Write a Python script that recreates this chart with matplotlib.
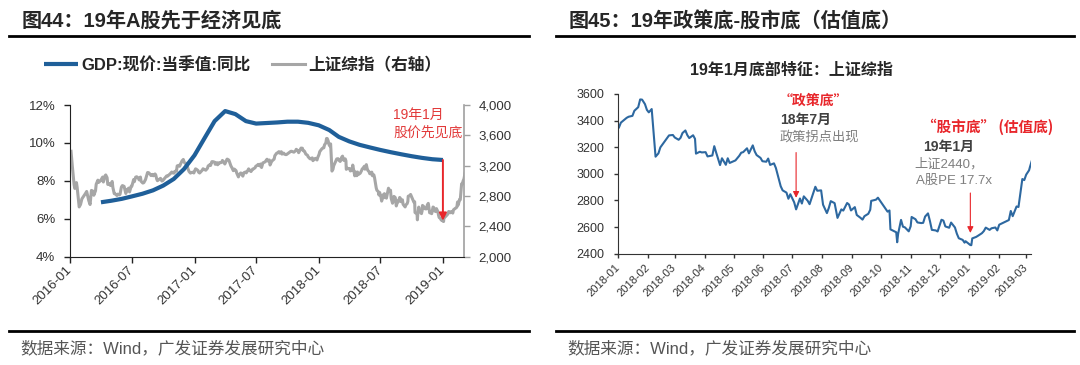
import matplotlib
matplotlib.use("Agg")
import matplotlib.pyplot as plt
import matplotlib.dates as mdates
from matplotlib.lines import Line2D
import pandas as pd

plt.rcParams['font.family'] = ['Liberation Sans', 'Noto Sans CJK SC']
plt.rcParams['axes.unicode_minus'] = False

# ---------------- data ----------------
gdp_dates = ['2016-04-01', '2016-05-01', '2016-06-01', '2016-07-01', '2016-08-01', '2016-09-01',
             '2016-10-01', '2016-11-01', '2016-12-01', '2017-01-01', '2017-02-01', '2017-03-01',
             '2017-04-01', '2017-05-01', '2017-06-01', '2017-07-01', '2017-08-01', '2017-09-01',
             '2017-10-01', '2017-11-01', '2017-12-01', '2018-01-01', '2018-02-01', '2018-03-01',
             '2018-04-01', '2018-05-01', '2018-06-01', '2018-07-01', '2018-08-01', '2018-09-01',
             '2018-10-01', '2018-11-01', '2018-12-01', '2019-01-01']
gdp_vals = [6.87, 6.95, 7.05, 7.18, 7.32, 7.50, 7.75, 8.10, 8.62, 9.35, 10.30, 11.15,
            11.68, 11.52, 11.15, 11.02, 11.05, 11.08, 11.12, 11.12, 11.06, 10.93, 10.68, 10.32,
            10.08, 9.90, 9.76, 9.63, 9.51, 9.40, 9.30, 9.21, 9.14, 9.10]

sse_dates_1617 = [
    '2016-01-04', '2016-01-08', '2016-01-13', '2016-01-15', '2016-01-20', '2016-01-22', '2016-01-26',
    '2016-01-28', '2016-02-01', '2016-02-05', '2016-02-16', '2016-02-19', '2016-02-25', '2016-02-29',
    '2016-03-04', '2016-03-09', '2016-03-11', '2016-03-16', '2016-03-18', '2016-03-23', '2016-03-25',
    '2016-03-31', '2016-04-06', '2016-04-08', '2016-04-13', '2016-04-15', '2016-04-19', '2016-04-21',
    '2016-04-26', '2016-04-29', '2016-05-04', '2016-05-06', '2016-05-10', '2016-05-13', '2016-05-18',
    '2016-05-20', '2016-05-25', '2016-05-27', '2016-05-31', '2016-06-03', '2016-06-08', '2016-06-13',
    '2016-06-17', '2016-06-22', '2016-06-24', '2016-06-29', '2016-07-01', '2016-07-06', '2016-07-08',
    '2016-07-12', '2016-07-15', '2016-07-20', '2016-07-22', '2016-07-26', '2016-07-28', '2016-08-02',
    '2016-08-05', '2016-08-10', '2016-08-12', '2016-08-16', '2016-08-19', '2016-08-24', '2016-08-26',
    '2016-08-31', '2016-09-02', '2016-09-07', '2016-09-09', '2016-09-12', '2016-09-14', '2016-09-21',
    '2016-09-23', '2016-09-27', '2016-09-30', '2016-10-11', '2016-10-14', '2016-10-19', '2016-10-21',
    '2016-10-26', '2016-10-28', '2016-11-02', '2016-11-04', '2016-11-09', '2016-11-11', '2016-11-16',
    '2016-11-18', '2016-11-23', '2016-11-25', '2016-11-29', '2016-12-02', '2016-12-07', '2016-12-09',
    '2016-12-13', '2016-12-16', '2016-12-20', '2016-12-23', '2016-12-27', '2016-12-30',
    '2017-01-04', '2017-01-06', '2017-01-11', '2017-01-13', '2017-01-16', '2017-01-20', '2017-01-24',
    '2017-01-26', '2017-02-03', '2017-02-08', '2017-02-10', '2017-02-15', '2017-02-17', '2017-02-21',
    '2017-02-24', '2017-03-01', '2017-03-03', '2017-03-08', '2017-03-10', '2017-03-15', '2017-03-17',
    '2017-03-22', '2017-03-24', '2017-03-29', '2017-03-31', '2017-04-06', '2017-04-07', '2017-04-12',
    '2017-04-14', '2017-04-18', '2017-04-21', '2017-04-25', '2017-04-28', '2017-05-03', '2017-05-05',
    '2017-05-10', '2017-05-12', '2017-05-17', '2017-05-19', '2017-05-23', '2017-05-26', '2017-05-31',
    '2017-06-02', '2017-06-07', '2017-06-09', '2017-06-14', '2017-06-16', '2017-06-21', '2017-06-23',
    '2017-06-28', '2017-06-30', '2017-07-05', '2017-07-07', '2017-07-12', '2017-07-14', '2017-07-17',
    '2017-07-21', '2017-07-26', '2017-07-28', '2017-08-02', '2017-08-04', '2017-08-09', '2017-08-11',
    '2017-08-15', '2017-08-18', '2017-08-23', '2017-08-25', '2017-08-30', '2017-09-01', '2017-09-06',
    '2017-09-08', '2017-09-13', '2017-09-15', '2017-09-20', '2017-09-22', '2017-09-27', '2017-09-29',
    '2017-10-11', '2017-10-13', '2017-10-18', '2017-10-20', '2017-10-25', '2017-10-27', '2017-11-01',
    '2017-11-03', '2017-11-08', '2017-11-10', '2017-11-14', '2017-11-16', '2017-11-20', '2017-11-24',
    '2017-11-29', '2017-12-01', '2017-12-06', '2017-12-08', '2017-12-13', '2017-12-15', '2017-12-20',
    '2017-12-22', '2017-12-27', '2017-12-29']
sse_vals_1617 = [
    3390, 3186, 2950, 2900, 2977, 2916, 2750,
    2656, 2689, 2763, 2837, 2860, 2742, 2688,
    2874, 2863, 2810, 2870, 2955, 3009, 2979,
    3004, 3050, 2985, 3066, 3078, 3042, 2953,
    2964, 2938, 2992, 2913, 2832, 2827, 2807,
    2825, 2815, 2822, 2917, 2938, 2927, 2834,
    2885, 2905, 2854, 2931, 2932, 3017, 2989,
    3049, 3054, 3037, 3013, 3050, 2994, 2971,
    2976, 3018, 3050, 3110, 3108, 3085, 3070,
    3085, 3067, 3091, 3078, 3021, 3002, 3025,
    3033, 2998, 3005, 3065, 3063, 3084, 3091,
    3116, 3105, 3102, 3125, 3128, 3197, 3205,
    3192, 3241, 3262, 3282, 3243, 3222, 3232,
    3155, 3123, 3102, 3110, 3114, 3104,
    3158, 3154, 3137, 3113, 3103, 3123, 3142,
    3159, 3140, 3166, 3196, 3213, 3202, 3253,
    3253, 3246, 3218, 3240, 3212, 3241, 3237,
    3245, 3269, 3241, 3222, 3281, 3287, 3273,
    3246, 3196, 3173, 3134, 3155, 3135, 3103,
    3052, 3083, 3104, 3090, 3062, 3107, 3117,
    3105, 3140, 3158, 3130, 3123, 3156, 3157,
    3173, 3192, 3207, 3217, 3197, 3222, 3176,
    3237, 3247, 3253, 3285, 3262, 3275, 3209,
    3251, 3268, 3287, 3331, 3363, 3367, 3385,
    3365, 3384, 3353, 3366, 3352, 3345, 3349,
    3389, 3390, 3381, 3378, 3397, 3416, 3396,
    3371, 3415, 3432, 3430, 3399, 3392, 3353,
    3337, 3317, 3293, 3289, 3303, 3266, 3287,
    3297, 3275, 3307]

sse_dates_1819 = [
    '2018-01-02', '2018-01-04', '2018-01-08', '2018-01-10', '2018-01-12', '2018-01-16', '2018-01-18',
    '2018-01-22', '2018-01-24', '2018-01-26', '2018-01-29', '2018-01-31', '2018-02-02', '2018-02-05',
    '2018-02-07', '2018-02-09', '2018-02-12', '2018-02-14', '2018-02-23', '2018-02-27', '2018-03-01',
    '2018-03-05', '2018-03-07', '2018-03-09', '2018-03-12', '2018-03-14', '2018-03-16', '2018-03-20',
    '2018-03-22', '2018-03-23', '2018-03-27', '2018-03-29', '2018-04-02', '2018-04-04', '2018-04-09',
    '2018-04-11', '2018-04-13', '2018-04-17', '2018-04-19', '2018-04-23', '2018-04-25', '2018-04-27',
    '2018-05-03', '2018-05-07', '2018-05-09', '2018-05-11', '2018-05-15', '2018-05-17', '2018-05-21',
    '2018-05-23', '2018-05-25', '2018-05-29', '2018-05-31', '2018-06-04', '2018-06-06', '2018-06-08',
    '2018-06-12', '2018-06-14', '2018-06-19', '2018-06-21', '2018-06-25', '2018-06-27', '2018-06-29',
    '2018-07-03', '2018-07-05', '2018-07-09', '2018-07-11', '2018-07-13', '2018-07-17', '2018-07-19',
    '2018-07-23', '2018-07-25', '2018-07-27', '2018-07-31', '2018-08-02', '2018-08-06', '2018-08-08',
    '2018-08-10', '2018-08-14', '2018-08-16', '2018-08-17', '2018-08-21', '2018-08-23', '2018-08-27',
    '2018-08-29', '2018-08-31', '2018-09-04', '2018-09-06', '2018-09-10', '2018-09-12', '2018-09-14',
    '2018-09-18', '2018-09-20', '2018-09-21', '2018-09-26', '2018-09-28', '2018-10-08', '2018-10-10',
    '2018-10-11', '2018-10-15', '2018-10-17', '2018-10-18', '2018-10-19', '2018-10-22', '2018-10-24',
    '2018-10-26', '2018-10-30', '2018-11-01', '2018-11-02', '2018-11-06', '2018-11-08', '2018-11-12',
    '2018-11-14', '2018-11-16', '2018-11-19', '2018-11-21', '2018-11-23', '2018-11-27', '2018-11-29',
    '2018-12-03', '2018-12-05', '2018-12-07', '2018-12-11', '2018-12-13', '2018-12-17', '2018-12-19',
    '2018-12-21', '2018-12-25', '2018-12-27', '2018-12-28', '2019-01-02', '2019-01-03', '2019-01-04',
    '2019-01-08', '2019-01-10', '2019-01-14', '2019-01-16', '2019-01-18', '2019-01-22', '2019-01-24',
    '2019-01-28', '2019-01-30', '2019-02-01', '2019-02-11', '2019-02-13', '2019-02-15', '2019-02-19',
    '2019-02-21', '2019-02-22', '2019-02-25', '2019-02-27', '2019-03-01', '2019-03-04', '2019-03-05',
    '2019-03-07']
sse_vals_1819 = [
    3349, 3385, 3409, 3421, 3429, 3436, 3474,
    3501, 3559, 3558, 3524, 3481, 3462, 3487,
    3309, 3129, 3154, 3199, 3289, 3292, 3273,
    3256, 3271, 3307, 3326, 3291, 3269, 3290,
    3263, 3152, 3166, 3161, 3163, 3131, 3138,
    3208, 3159, 3066, 3117, 3068, 3117, 3082,
    3101, 3136, 3159, 3163, 3192, 3154, 3214,
    3169, 3141, 3120, 3095, 3091, 3115, 3067,
    3079, 3044, 2907, 2876, 2859, 2813, 2847,
    2786, 2733, 2815, 2777, 2831, 2798, 2772,
    2859, 2903, 2873, 2876, 2768, 2705, 2744,
    2795, 2780, 2705, 2669, 2733, 2724, 2781,
    2769, 2725, 2750, 2691, 2669, 2656, 2682,
    2700, 2730, 2797, 2806, 2821, 2716, 2725,
    2583, 2568, 2561, 2486, 2550, 2654, 2603,
    2598, 2568, 2606, 2676, 2659, 2635, 2630,
    2632, 2679, 2703, 2646, 2579, 2575, 2567,
    2655, 2649, 2605, 2595, 2634, 2597, 2550,
    2516, 2504, 2483, 2494, 2465, 2464, 2515,
    2526, 2535, 2554, 2570, 2596, 2579, 2591,
    2597, 2575, 2618, 2653, 2721, 2682, 2755,
    2751, 2804, 2961, 2953, 2994, 3027, 3054,
    3102]

left_xtick_labels = ['2016-01', '2016-07', '2017-01', '2017-07', '2018-01', '2018-07', '2019-01']
left_yticks = [4, 6, 8, 10, 12]
left_y2ticks = [2000, 2400, 2800, 3200, 3600, 4000]
right_xtick_labels = ['2018-01', '2018-02', '2018-03', '2018-04', '2018-05', '2018-06', '2018-07',
                      '2018-08', '2018-09', '2018-10', '2018-11', '2018-12', '2019-01', '2019-02',
                      '2019-03']
right_yticks = [2400, 2600, 2800, 3000, 3200, 3400, 3600]

# ---------------- figure ----------------
W, H = 1080, 365
fig = plt.figure(figsize=(W / 100, H / 100), dpi=100)


def fx(p):
    return p / W


def fy(p):
    return 1 - p / H


def box(l, t, r, b):
    return [fx(l), fy(b), (r - l) / W, (b - t) / H]


def dn(s):
    return mdates.date2num(pd.Timestamp(s))


RED = '#E8262B'
BLUE = '#1F5F99'
GRAY = '#A6A6A6'
TXT = '#262626'

gdp_d = mdates.date2num(pd.to_datetime(gdp_dates))
sse_d = mdates.date2num(pd.to_datetime(sse_dates_1617 + sse_dates_1819))
sse_v = sse_vals_1617 + sse_vals_1819
sse_d2 = mdates.date2num(pd.to_datetime(sse_dates_1819))

# ---- left chart ----
ax = fig.add_axes(box(70, 105, 464, 256.7))
ax2 = ax.twinx()
ax.set_zorder(ax2.get_zorder() + 1)
ax.patch.set_visible(False)

l_sse, = ax2.plot(sse_d, sse_v, color=GRAY, lw=2.2, solid_joinstyle='round')
l_gdp, = ax.plot(gdp_d, gdp_vals, color=BLUE, lw=3.0, solid_joinstyle='round',
                 solid_capstyle='butt')

ax.set_xlim(dn('2016-01-01'), dn('2019-03-04'))
ax.set_ylim(4, 12)
ax2.set_ylim(2000, 4000)
ax.set_yticks(left_yticks)
ax.set_yticklabels([f'{v}%' for v in left_yticks])
ax2.set_yticks(left_y2ticks)
ax2.set_yticklabels([f'{v:,}' for v in left_y2ticks])
ax.set_xticks([dn(t) for t in left_xtick_labels])
ax.set_xticklabels(left_xtick_labels, rotation=45, ha='right', va='center',
                   rotation_mode='anchor')

for s in ['top', 'right']:
    ax.spines[s].set_visible(False)
for s in ['top', 'left', 'bottom']:
    ax2.spines[s].set_visible(False)
ax.spines['left'].set_color('#222222')
ax.spines['bottom'].set_color('#222222')
ax2.spines['right'].set_color('#A0A0A0')
ax2.spines['right'].set_linewidth(1.2)

ax.tick_params(axis='y', direction='out', length=4, width=1, color='#222222', pad=6.5,
               labelsize=9.5, labelcolor='#333333')
ax.tick_params(axis='x', direction='out', length=4, width=1, color='#222222', pad=4.5,
               labelsize=9.5, labelcolor='#333333')
ax2.tick_params(axis='y', direction='out', length=4, width=1, color='#A0A0A0', pad=6.5,
                labelsize=9.5, labelcolor='#333333')

# arrow from GDP end down to the index
d_end = gdp_d[-1]
ax.annotate('', xy=(d_end, 2475), xycoords=ax2.transData,
            xytext=(d_end, gdp_vals[-1]), textcoords=ax.transData,
            arrowprops=dict(arrowstyle='-|>', color=RED, lw=1.4, shrinkA=0, shrinkB=0,
                            mutation_scale=11))
fig.text(fx(393), fy(115), '19年1月', color='#E23A3A', fontsize=10, ha='left', va='center')
fig.text(fx(393), fy(133), '股价先见底', color='#E23A3A', fontsize=10, ha='left', va='center')

fig.legend(handles=[l_gdp, l_sse], labels=['GDP:现价:当季值:同比', '上证综指（右轴）'],
           loc='center', bbox_to_anchor=(fx(243), fy(65)), ncol=2, frameon=False,
           prop={'size': 12, 'weight': 'bold'}, handlelength=2.0, handletextpad=0.2,
           columnspacing=1.3, labelcolor=TXT)

# ---- right chart ----
ax3 = fig.add_axes(box(618, 94, 1031, 253.7))
ax3.plot(sse_d2, sse_vals_1819, color='#2D68A0', lw=1.5, solid_joinstyle='round')
ax3.set_xlim(dn('2018-01-01'), dn('2019-03-06'))
ax3.set_ylim(2400, 3600)
ax3.set_yticks(right_yticks)
ax3.set_yticklabels([str(v) for v in right_yticks])
ax3.set_xticks([dn(t) for t in right_xtick_labels])
ax3.set_xticklabels(right_xtick_labels, rotation=45, ha='right', va='center',
                    rotation_mode='anchor')
for s in ['top', 'right']:
    ax3.spines[s].set_visible(False)
ax3.spines['left'].set_color('#333333')
ax3.spines['bottom'].set_color('#333333')
ax3.tick_params(axis='y', direction='out', length=3, width=1, color='#333333', pad=7,
                labelsize=9, labelcolor='#333333')
ax3.tick_params(axis='x', direction='out', length=3, width=1, color='#333333', pad=6,
                labelsize=8, labelcolor='#333333')

ax3.annotate('', xy=(dn('2018-07-05'), 2820), xytext=(dn('2018-07-05'), 3160),
             arrowprops=dict(arrowstyle='-|>', color=RED, lw=0.8, shrinkA=0, shrinkB=0,
                             mutation_scale=9))
ax3.annotate('', xy=(dn('2019-01-02'), 2556), xytext=(dn('2019-01-02'), 2856),
             arrowprops=dict(arrowstyle='-|>', color=RED, lw=0.8, shrinkA=0, shrinkB=0,
                             mutation_scale=9))

fig.text(fx(779), fy(101), '“政策底”', color=RED, fontsize=10, fontweight='bold',
         family=['Noto Sans CJK SC'], ha='left', va='center')
fig.text(fx(780), fy(119.5), '18年7月', color='#404040', fontsize=10, fontweight='bold',
         ha='left', va='center')
fig.text(fx(780), fy(137), '政策拐点出现', color='#7F7F7F', fontsize=9.5, ha='left', va='center')

fig.text(fx(922), fy(127), '“股市底” (估值底)', color=RED, fontsize=10.5, fontweight='bold',
         family=['Noto Sans CJK SC'], ha='left', va='center')
fig.text(fx(949), fy(147), '19年1月', color='#404040', fontsize=10, fontweight='bold',
         ha='center', va='center')
fig.text(fx(949), fy(164.5), '上证2440，', color='#7F7F7F', fontsize=9.5, ha='center', va='center')
fig.text(fx(954), fy(180.5), 'A股PE 17.7x', color='#7F7F7F', fontsize=9.5, ha='center',
         va='center')

fig.text(fx(791.6), fy(70), '19年1月底部特征：上证综指', color=TXT, fontsize=11.5,
         fontweight='bold', ha='center', va='center')

# ---- panel titles, rules, footers ----
fig.text(fx(22), fy(21), '图44：19年A股先于经济见底', color=TXT, fontsize=14.5,
         fontweight='bold', ha='left', va='center')
fig.text(fx(569), fy(21), '图45：19年政策底-股市底（估值底）', color=TXT, fontsize=14.5,
         fontweight='bold', ha='left', va='center')
for x0, x1 in [(8.6, 528.6), (555.5, 1073.7)]:
    fig.add_artist(Line2D([fx(x0), fx(x1)], [fy(35.5), fy(35.5)], color='black', lw=2))
    fig.add_artist(Line2D([fx(x0), fx(x1)], [fy(331), fy(331)], color='black', lw=2))
fig.text(fx(20.7), fy(348), '数据来源：Wind，广发证券发展研究中心', color='#555555', fontsize=12,
         ha='left', va='center')
fig.text(fx(567.5), fy(348), '数据来源：Wind，广发证券发展研究中心', color='#555555', fontsize=12,
         ha='left', va='center')

fig.savefig('out.png', dpi=100, facecolor='white')
